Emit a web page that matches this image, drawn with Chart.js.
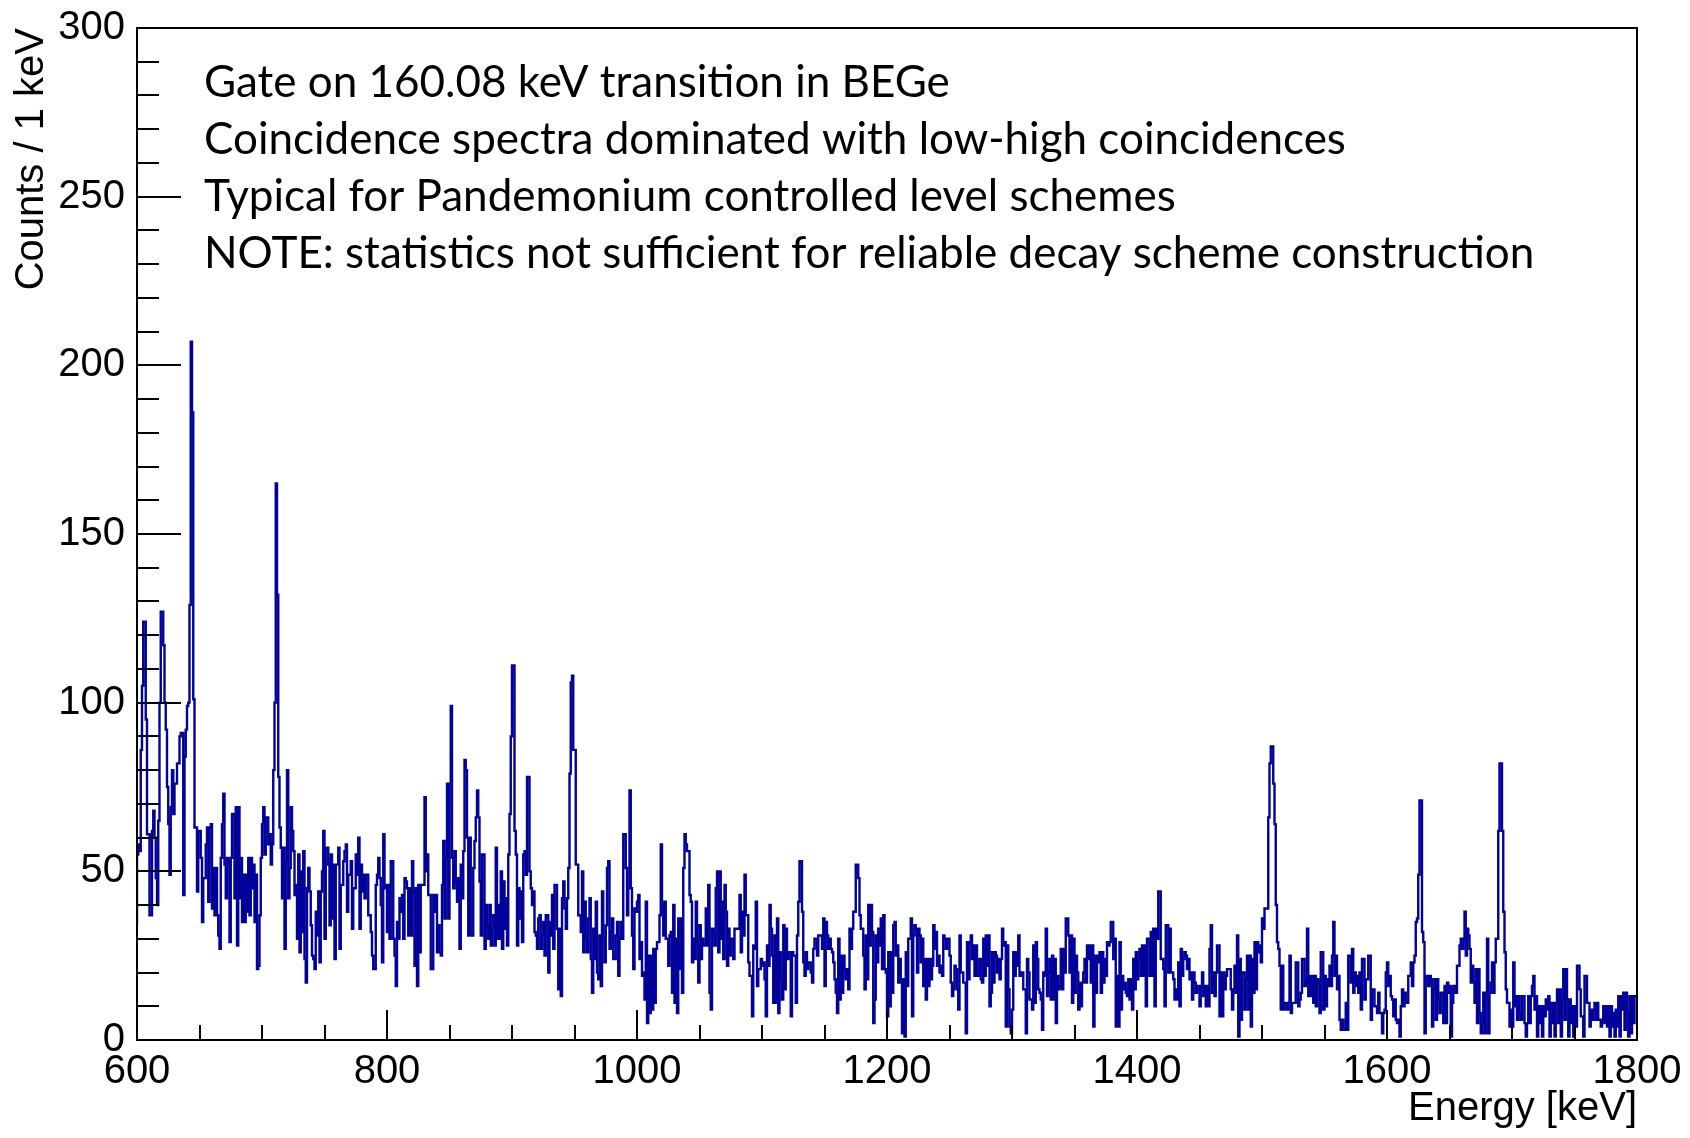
<!DOCTYPE html>
<html>
<head>
<meta charset="utf-8">
<script src="https://cdn.jsdelivr.net/npm/chart.js@4.4.1/dist/chart.umd.min.js"></script>
<style>
html,body{margin:0;padding:0;background:#fff;}
#wrap{position:relative;width:1690px;height:1138px;}
</style>
</head>
<body>
<div id="wrap"><canvas id="c" width="1690" height="1138"></canvas></div>
<script>
// ---- data: counts per 1 keV bin ----
const energyStart = 600;   // keV, low edge of first bin
const energyEnd = 1800;    // keV
const binWidth = 1;        // keV

const counts600 = [34,55,58,56,86,105,124,124,95,61,
 61,37,37,62,68,60,48,40,65,100,
 127,127,117,100,92,75,64,49,69,80,
 67,76,76,82,82,90,91,91,43,84,
 92,99,100,129,207,186,101,63,63,44,
 62,62,54,35,48,48,58,63,41,63,
 64,39,51,37,51,37,31,27,54,64,
 73,52,42,54,53,29,54,67,67,42,
 69,28,69,42,54,35,49,35,49,38,
 54,37,54,45,52,35,49,21,22,37];
const counts700 = [54,64,69,55,66,66,58,61,52,58,
 80,100,165,132,78,63,57,42,57,27,
 53,80,42,51,69,62,56,43,46,30,
 55,26,50,32,56,24,17,45,51,44,
 34,25,24,21,38,31,44,23,44,50,
 62,30,57,57,52,34,55,36,52,24,
 52,52,57,27,46,46,53,56,58,38,
 49,49,53,33,45,45,55,49,60,33,
 52,44,49,42,49,49,37,37,32,25,
 21,21,46,49,54,48,40,23,61,45];
const counts800 = [46,32,46,30,53,53,30,25,16,35,
 30,42,38,43,30,48,47,45,31,45,
 31,53,44,22,45,16,46,26,46,46,
 46,72,50,55,43,43,21,21,43,38,
 43,26,34,26,25,46,59,36,54,76,
 36,76,99,54,45,56,47,41,48,27,
 52,42,56,83,80,60,31,60,31,31,
 51,59,66,74,66,47,31,55,55,27,
 40,34,30,40,28,33,37,28,57,30,
 40,30,50,27,47,33,42,28,55,67];
const counts900 = [90,111,111,62,55,28,45,36,44,29,
 55,56,49,78,78,50,45,40,44,32,
 31,27,36,37,27,31,35,25,37,37,
 20,35,31,43,27,46,46,33,15,33,
 13,42,47,39,33,42,51,79,106,108,
 86,86,52,52,37,37,32,50,26,41,
 30,26,36,42,24,14,33,24,41,20,
 18,31,16,44,30,23,34,51,53,27,
 32,36,24,24,31,35,19,30,35,30,
 61,61,51,37,45,74,45,31,21,39];
const counts1000 = [38,41,43,24,29,19,20,12,41,5,
 25,8,25,9,27,11,27,29,29,37,
 58,40,31,41,30,30,22,31,32,14,
 40,11,30,8,36,21,36,14,51,61,
 58,56,56,43,41,23,30,24,41,29,
 17,34,24,30,28,28,39,28,46,14,
 9,33,32,28,45,50,26,50,30,41,
 24,46,38,22,33,25,30,30,24,33,
 33,33,33,43,26,38,31,49,37,37,
 23,19,19,7,28,27,41,16,21,21];
const counts1100 = [24,22,23,18,7,28,22,40,33,25,
 11,31,11,36,8,26,18,12,34,15,
 33,24,26,26,7,26,25,25,11,31,
 41,53,53,38,23,19,26,21,23,23,
 20,17,27,30,30,25,31,31,31,27,
 36,16,35,31,27,30,27,26,23,18,
 14,8,30,12,25,14,25,21,18,21,
 15,33,27,33,38,38,52,52,48,37,
 33,33,25,15,31,18,40,28,40,32,
 5,12,31,23,33,28,36,21,37,21];
const counts1200 = [20,7,26,10,26,14,34,35,25,28,
 17,24,17,2,18,1,26,16,30,30,
 36,7,31,34,33,20,33,31,23,30,
 16,24,12,24,16,24,18,22,34,27,
 32,22,25,20,22,19,31,30,27,30,
 30,25,17,13,15,22,21,15,9,31,
 20,20,17,17,2,29,18,29,31,24,
 28,19,28,19,19,24,18,17,30,19,
 31,22,31,10,14,26,17,26,25,20,
 24,18,24,33,28,29,4,28,15,4];
const counts1300 = [2,9,26,19,26,22,31,19,20,20,
 15,15,2,24,20,12,12,9,28,11,
 29,24,15,14,12,3,20,19,33,13,
 20,24,12,25,12,24,5,19,15,16,
 27,15,27,20,36,36,31,20,31,11,
 30,14,25,20,9,17,10,17,20,24,
 17,28,24,28,17,28,4,25,14,25,
 23,26,14,26,17,24,19,29,28,29,
 35,35,24,30,4,19,4,29,9,19,
 15,17,14,13,18,12,18,9,24,15];
const counts1400 = [26,18,24,27,19,28,19,28,10,30,
 30,19,32,19,33,10,33,30,44,44,
 24,24,21,10,34,34,20,33,20,20,
 18,12,15,12,23,10,27,19,24,26,
 25,21,24,18,20,12,20,17,14,16,
 16,10,16,20,13,16,10,16,10,27,
 34,14,20,13,20,28,28,7,20,7,
 20,15,19,21,21,21,15,9,15,22,
 14,31,1,24,6,20,20,9,18,25,
 9,25,4,24,14,29,15,29,26,28];
const counts1500 = [23,36,33,39,39,39,66,82,87,87,
 76,64,40,29,27,22,9,22,9,11,
 11,9,11,25,8,11,11,11,23,23,
 10,12,14,24,24,16,17,33,13,19,
 13,19,11,19,10,18,17,8,26,26,
 9,19,10,18,16,22,16,25,35,19,
 25,15,19,6,3,6,3,3,11,3,
 25,25,17,27,14,20,16,19,14,20,
 9,24,24,12,18,18,25,25,6,15,
 15,10,10,8,14,8,8,2,8,9];
const counts1600 = [20,23,16,19,13,12,7,12,6,5,
 6,1,10,15,10,14,11,11,19,19,
 23,16,23,25,35,36,49,71,71,32,
 29,2,19,19,16,19,18,4,15,18,
 6,18,12,8,14,14,5,16,5,17,
 14,16,1,11,16,16,14,22,22,28,
 30,27,30,38,25,33,31,27,17,22,
 17,11,21,5,21,8,2,5,14,2,
 14,30,2,14,17,23,14,23,30,30,
 62,82,82,62,38,26,15,11,11,4];
const counts1700 = [9,4,23,10,13,6,13,8,6,13,
 13,5,1,5,13,5,13,16,19,9,
 13,1,10,5,10,1,10,7,12,9,
 13,1,11,5,11,1,11,15,5,15,
 1,12,21,6,21,12,1,12,5,10,
 1,10,4,22,22,15,7,7,1,19,
 19,11,11,4,9,6,9,11,6,11,
 6,6,4,6,10,5,10,4,10,1,
 10,4,8,1,9,4,13,1,13,9,
 14,3,14,8,1,13,2,13,5,13];

const xTickValues = [600, 800, 1000, 1200, 1400, 1600, 1800];
const yTickValues = [0, 50, 100, 150, 200, 250, 300];
const xTitle = 'Energy [keV]';
const yTitle = 'Counts / 1 keV';
const noteLines = [
  'Gate on 160.08 keV transition in BEGe',
  'Coincidence spectra dominated with low-high coincidences',
  'Typical for Pandemonium controlled level schemes',
  'NOTE: statistics not sufficient for reliable decay scheme construction'
];

// ---- build histogram points (bin low edges + closing edge) ----
const counts = [].concat(counts600, counts700, counts800, counts900, counts1000, counts1100,
  counts1200, counts1300, counts1400, counts1500, counts1600, counts1700);
const histPoints = counts.map((c, i) => ({ x: energyStart + i * binWidth, y: c }));
histPoints.push({ x: energyStart + counts.length * binWidth, y: counts[counts.length - 1] });

const AXIS_FONT = 'Liberation Sans';

const rootFrame = {
  id: 'rootFrame',
  afterDatasetsDraw(chart) {
    const { ctx, chartArea: a, scales: { x, y } } = chart;
    ctx.save();
    ctx.strokeStyle = '#000';
    ctx.lineWidth = 2;
    ctx.beginPath();
    for (let e = energyStart; e <= energyEnd; e += 50) {
      const px = Math.round(x.getPixelForValue(e));
      const len = (e % 200 === 0) ? 30 : 15;
      ctx.moveTo(px, a.bottom); ctx.lineTo(px, a.bottom - len);
    }
    for (let v = 0; v <= 300; v += 10) {
      const py = Math.round(y.getPixelForValue(v));
      const len = (v % 50 === 0) ? 44 : 22;
      ctx.moveTo(a.left, py); ctx.lineTo(a.left + len, py);
    }
    ctx.stroke();
    ctx.strokeRect(a.left, a.top, a.right - a.left, a.bottom - a.top);
    ctx.restore();
  },
  afterDraw(chart) {
    const { ctx, chartArea: a } = chart;
    ctx.save();
    ctx.fillStyle = '#000';
    ctx.font = '44px Lato';
    ctx.textBaseline = 'alphabetic';
    noteLines.forEach((t, i) => ctx.fillText(t, a.left + 67, a.top + 69 + i * 57));
    ctx.restore();
  }
};

new Chart(document.getElementById('c'), {
  type: 'line',
  data: {
    datasets: [{
      data: histPoints,
      borderColor: '#02029a',
      borderWidth: 2.4,
      stepped: 'after',
      pointRadius: 0,
      fill: false,
      tension: 0
    }]
  },
  options: {
    responsive: false,
    animation: false,
    layout: { padding: { left: 0, right: 53, top: 14, bottom: 0 } },
    plugins: { legend: { display: false }, tooltip: { enabled: false } },
    scales: {
      x: {
        type: 'linear', min: energyStart, max: energyEnd,
        grid: { display: false }, border: { display: false },
        afterBuildTicks(s) { s.ticks = xTickValues.map(v => ({ value: v })); },
        ticks: { color: '#000', padding: 0, maxRotation: 0, autoSkip: false,
                 callback: v => String(v),
                 font: { family: AXIS_FONT, size: 40 } },
        title: { display: true, text: xTitle, align: 'end', color: '#000',
                 font: { family: AXIS_FONT, size: 40 }, padding: { top: 0, bottom: 5 } },
        afterFit(s) { s.height = 98; }
      },
      y: {
        type: 'linear', min: 0, max: 300,
        grid: { display: false }, border: { display: false },
        afterBuildTicks(s) { s.ticks = yTickValues.map(v => ({ value: v })); },
        ticks: { color: '#000', padding: 4, callback: v => String(v),
                 font: { family: AXIS_FONT, size: 40 } },
        title: { display: true, text: yTitle, align: 'end', color: '#000',
                 font: { family: AXIS_FONT, size: 40 }, padding: { top: 8, bottom: 0 } },
        afterFit(s) { s.width = 137; }
      }
    }
  },
  plugins: [rootFrame]
});
</script>
</body>
</html>
